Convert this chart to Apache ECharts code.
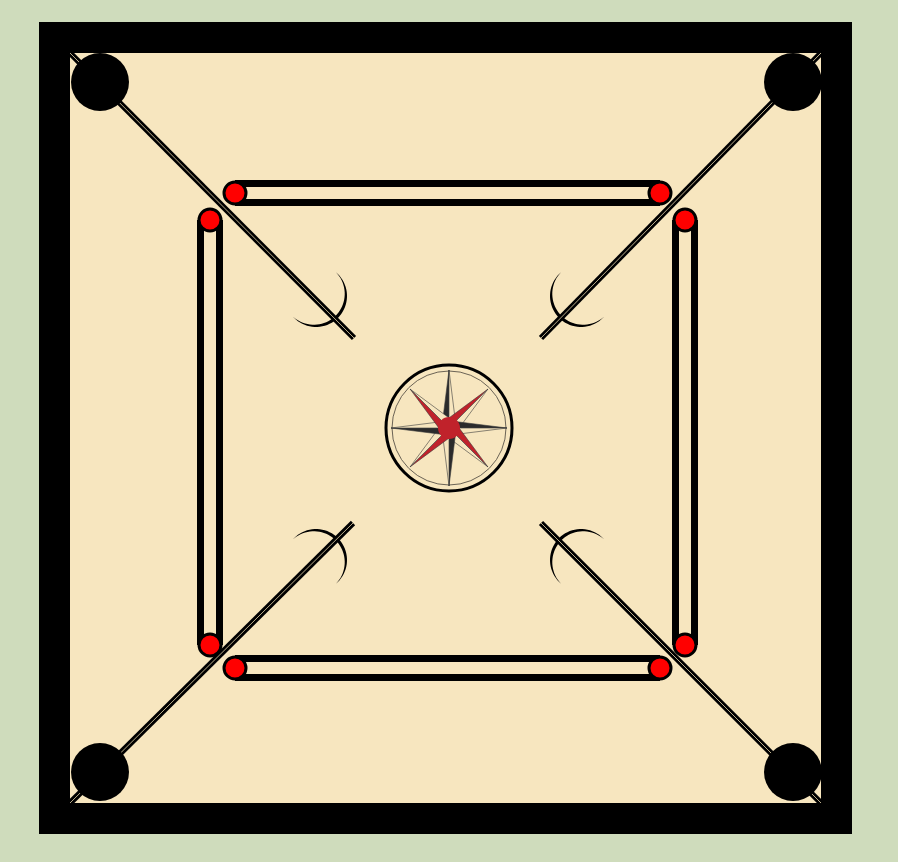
<!DOCTYPE html>
<html>
<head>
<meta charset="utf-8">
<script src="https://cdn.jsdelivr.net/npm/echarts@6/dist/echarts.min.js"></script>
<style>html,body{margin:0;padding:0;background:#cfdcbc}#main{width:898px;height:862px}</style>
</head>
<body>
<div id="main"></div>
<script>
// board drawn in pixel-like data units (x right, y down)
var frameRects = [[39, 22, 852, 834, '#000'], [70, 53, 821, 803, '#f7e6bf']];
var pockets = [[100, 82], [793, 82], [100, 772], [793, 772]];
var diagonals = [[70, 53, 354, 338], [821, 53, 541, 338], [70, 803, 353, 523], [821, 803, 541, 523]];
// baselines: x1, y1, x2, y2 (centre line between end circles)
var baselines = [[235, 193, 660, 193], [235, 668, 660, 668], [210, 220, 210, 645], [685, 220, 685, 645]];
var baseDots = [[235, 193], [660, 193], [235, 668], [660, 668], [210, 220], [210, 645], [685, 220], [685, 645]];
// arcs: cx, cy, start angle, end angle (deg, screen)
var arcs = [[316, 296, -50, 140], [581, 296, 40, 230], [316, 560, -140, 50], [581, 560, 130, 320]];
var centre = [449, 428];

var chart = echarts.init(document.getElementById('main'));

function arcPoly(api, a) {
  var pts = [], n = 40, i, t, ang, r;
  for (i = 0; i <= n; i++) {
    t = i / n; ang = (a[2] + (a[3] - a[2]) * t) * Math.PI / 180;
    pts.push(api.coord([a[0] + 31 * Math.cos(ang), a[1] + 31 * Math.sin(ang)]));
  }
  for (i = n; i >= 0; i--) {
    t = i / n; ang = (a[2] + (a[3] - a[2]) * t) * Math.PI / 180; r = 31 - 3.2 * Math.sin(Math.PI * t);
    pts.push(api.coord([a[0] + r * Math.cos(ang), a[1] + r * Math.sin(ang)]));
  }
  return pts;
}

function compass(api) {
  var c = api.coord(centre), kids = [];
  kids.push({type: 'circle', shape: {cx: c[0], cy: c[1], r: 63}, style: {fill: '#f7e6bf', stroke: '#000', lineWidth: 3}});
  kids.push({type: 'circle', shape: {cx: c[0], cy: c[1], r: 57}, style: {fill: 'none', stroke: '#6b6355', lineWidth: 1}});
  for (var k = 0; k < 8; k++) {
    var cardinal = k % 2 === 0;
    var ang = k * Math.PI / 4 - Math.PI / 2;
    var len = cardinal ? 58 : 55, bw = cardinal ? 9 : 7, br = cardinal ? 9 : 10;
    var tip = [c[0] + len * Math.cos(ang), c[1] + len * Math.sin(ang)];
    var s1 = [c[0] + br * Math.cos(ang - 0.8), c[1] + br * Math.sin(ang - 0.8)];
    var s2 = [c[0] + br * Math.cos(ang + 0.8), c[1] + br * Math.sin(ang + 0.8)];
    var col = cardinal ? '#2b2b2b' : '#c0222b';
    void bw;
    kids.push({type: 'polygon', shape: {points: [tip, s1, c]}, style: {fill: col, stroke: '#3a3a3a', lineWidth: 0.6}});
    kids.push({type: 'polygon', shape: {points: [tip, s2, c]}, style: {fill: '#f7e6bf', stroke: '#3a3a3a', lineWidth: 0.6}});
  }
  kids.push({type: 'circle', shape: {cx: c[0], cy: c[1], r: 11}, style: {fill: '#c0222b'}});
  return {type: 'group', children: kids};
}

chart.setOption({
  backgroundColor: '#cfdcbc',
  animation: false,
  grid: {left: 0, right: 0, top: 0, bottom: 0},
  xAxis: {type: 'value', min: 0, max: 898, show: false},
  yAxis: {type: 'value', min: 0, max: 862, inverse: true, show: false},
  series: [
    {
      type: 'custom', z: 1, data: frameRects,
      renderItem: function (p, api) {
        var a = api.coord([api.value(0), api.value(1)]), b = api.coord([api.value(2), api.value(3)]);
        return {type: 'rect', shape: {x: a[0], y: a[1], width: b[0] - a[0], height: b[1] - a[1]}, style: {fill: frameRects[p.dataIndex][4]}};
      }
    },
    {
      type: 'custom', z: 2, data: baselines,
      renderItem: function (p, api) {
        var a = api.coord([api.value(0), api.value(1)]), b = api.coord([api.value(2), api.value(3)]);
        var vert = a[0] === b[0], o = 9.5, kids = [];
        [-o, o].forEach(function (d) {
          kids.push({type: 'line', shape: vert ? {x1: a[0] + d, y1: a[1], x2: b[0] + d, y2: b[1]} : {x1: a[0], y1: a[1] + d, x2: b[0], y2: b[1] + d}, style: {stroke: '#000', lineWidth: 7}});
        });
        return {type: 'group', children: kids};
      }
    },
    {
      type: 'custom', z: 3, data: arcs,
      renderItem: function (p, api) {
        return {type: 'polygon', shape: {points: arcPoly(api, arcs[p.dataIndex])}, style: {fill: '#000'}};
      }
    },
    {
      type: 'custom', z: 4, data: diagonals,
      renderItem: function (p, api) {
        var a = api.coord([api.value(0), api.value(1)]), b = api.coord([api.value(2), api.value(3)]);
        return {type: 'group', children: [
          {type: 'line', shape: {x1: a[0], y1: a[1], x2: b[0], y2: b[1]}, style: {stroke: '#000', lineWidth: 6}},
          {type: 'line', shape: {x1: a[0], y1: a[1], x2: b[0], y2: b[1]}, style: {stroke: '#e8d8b0', lineWidth: 0.8}}
        ]};
      }
    },
    {
      type: 'scatter', z: 5, data: baseDots, symbolSize: 22,
      itemStyle: {color: '#ff0000', borderColor: '#000', borderWidth: 3, opacity: 1}
    },
    {
      type: 'scatter', z: 6, data: pockets, symbolSize: 58,
      itemStyle: {color: '#000', opacity: 1}
    },
    {
      type: 'custom', z: 7, data: [centre],
      renderItem: function (p, api) { return compass(api); }
    }
  ]
});
</script>
</body>
</html>
